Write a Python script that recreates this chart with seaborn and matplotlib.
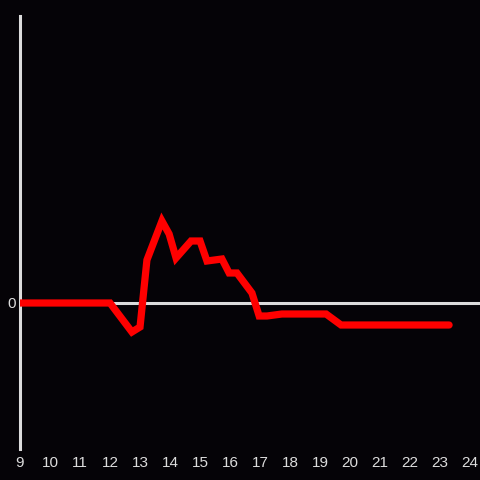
import seaborn as sns
import matplotlib.pyplot as plt
import pandas as pd

hours = [9.0, 12.0, 12.73, 13.0, 13.23, 13.73, 13.97, 14.2, 14.7, 15.0, 15.23,
         15.73, 15.97, 16.23, 16.73, 16.97, 17.23, 17.73, 19.2, 19.7, 23.3]
values = [0, 0, -29, -24, 43, 82, 69, 45, 62, 62, 42,
          44, 30, 30, 10, -13, -13, -11, -11, -22, -22]
xticks = list(range(9, 25))

bg = '#050307'
fg = '#dcdcdc'

df = pd.DataFrame({'hour': hours, 'value': values})

sns.set_style('dark')
plt.rcParams['font.family'] = ['Liberation Sans', 'DejaVu Sans']

fig = plt.figure(figsize=(4.8, 4.8), dpi=100, facecolor=bg)
ax = fig.add_axes([20 / 480, 31 / 480, 460 / 480, 433 / 480])
ax.set_facecolor(bg)

ax.axhline(0, color=fg, lw=2.2, zorder=1)
sns.lineplot(data=df, x='hour', y='value', ax=ax, color='#ff0000', lw=5.2,
             zorder=3, solid_joinstyle='miter')

ax.set_xlim(9, 24.33)
ax.set_ylim(-146, 287)
ax.set_xticks(xticks)
ax.set_xticklabels([str(t) for t in xticks])
ax.set_yticks([0])
ax.set_yticklabels(['0'])
ax.tick_params(colors=fg, labelsize=11, length=0, pad=5)
ax.tick_params(axis='y', pad=3)
ax.set_xlabel('')
ax.set_ylabel('')
ax.grid(False)
for s in ['top', 'right', 'bottom']:
    ax.spines[s].set_visible(False)
ax.spines['left'].set_color(fg)
ax.spines['left'].set_linewidth(2.2)

fig.savefig('out.png', dpi=100, facecolor=bg)
plt.close()
